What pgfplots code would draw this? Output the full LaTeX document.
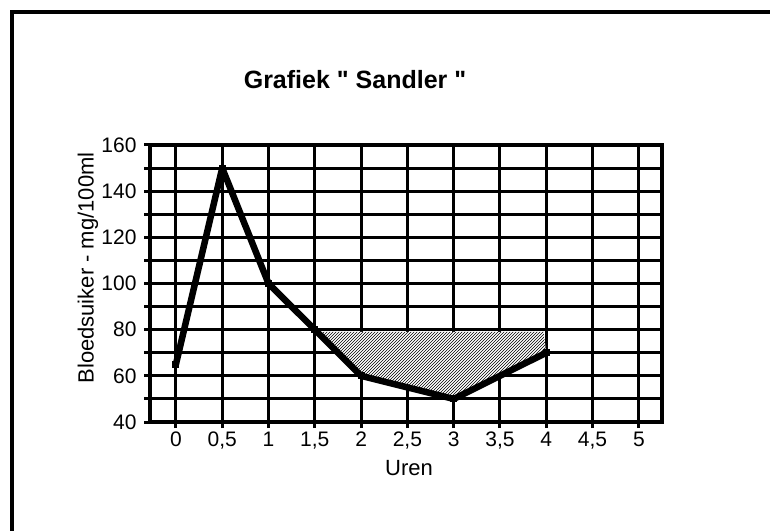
\documentclass[border=0pt]{standalone}
\usepackage{pgfplots}
\pgfplotsset{compat=1.18}
\usepackage{fontspec}
\setmainfont{Liberation Sans}
\usetikzlibrary{patterns}
\begin{document}
\begin{tikzpicture}
\useasboundingbox (0pt,0pt) rectangle (770pt,530pt);
\draw[line width=4pt] (12pt,-2pt) -- (12pt,518pt) -- (772pt,518pt);
\node[font=\fontsize{25}{25}\selectfont\bfseries] at (355pt,450pt) {Grafiek \textquotedbl{} Sandler \textquotedbl};
\begin{axis}[
  at={(150pt,108pt)}, anchor=south west, scale only axis,
  width=512pt, height=277pt,
  xmin=-0.28, xmax=5.25, ymin=40, ymax=160,
  xtick={0,0.5,...,5},
  xticklabels={0,{0,5},1,{1,5},2,{2,5},3,{3,5},4,{4,5},5},
  ytick={40,60,...,160}, minor ytick={50,70,...,150},
  xtick pos=left, ytick pos=left,
  grid=both,
  major grid style={line width=3pt,black},
  minor grid style={line width=3pt,black},
  axis line style={line width=3.5pt},
  tick style={line width=3pt,black},
  tick align=outside, major tick length=6pt, minor tick length=6pt,
  /pgf/number format/assume math mode=true,
  ticklabel style={font=\fontsize{21}{21}\selectfont},
  xticklabel style={anchor=north, text height=15pt, text depth=4pt},
  yticklabel style={xshift=-4pt},
  xlabel={Uren}, ylabel={Bloedsuiker - mg/100ml},
  label style={font=\fontsize{22}{22}\selectfont},
  xlabel style={at={(axis description cs:0.506,-0.166)}, anchor=center},
  ylabel style={at={(axis description cs:-0.121,0.556)}, anchor=center},
]
\addplot[draw=none, fill=white] coordinates {(1.5,79) (2,60) (3,50) (4,70) (3.97,79) (1.5,79)};
\addplot[draw=none, pattern=north east lines] coordinates {(1.5,79) (2,60) (3,50) (4,70) (3.97,79) (1.5,79)};
\addplot[line width=6.5pt, line join=round, black, mark=square*, mark size=3pt, mark options={line width=0pt}] coordinates {(0,65) (0.5,150) (1,100) (1.5,80) (2,60) (3,50) (4,70)};
\end{axis}
\end{tikzpicture}
\end{document}
